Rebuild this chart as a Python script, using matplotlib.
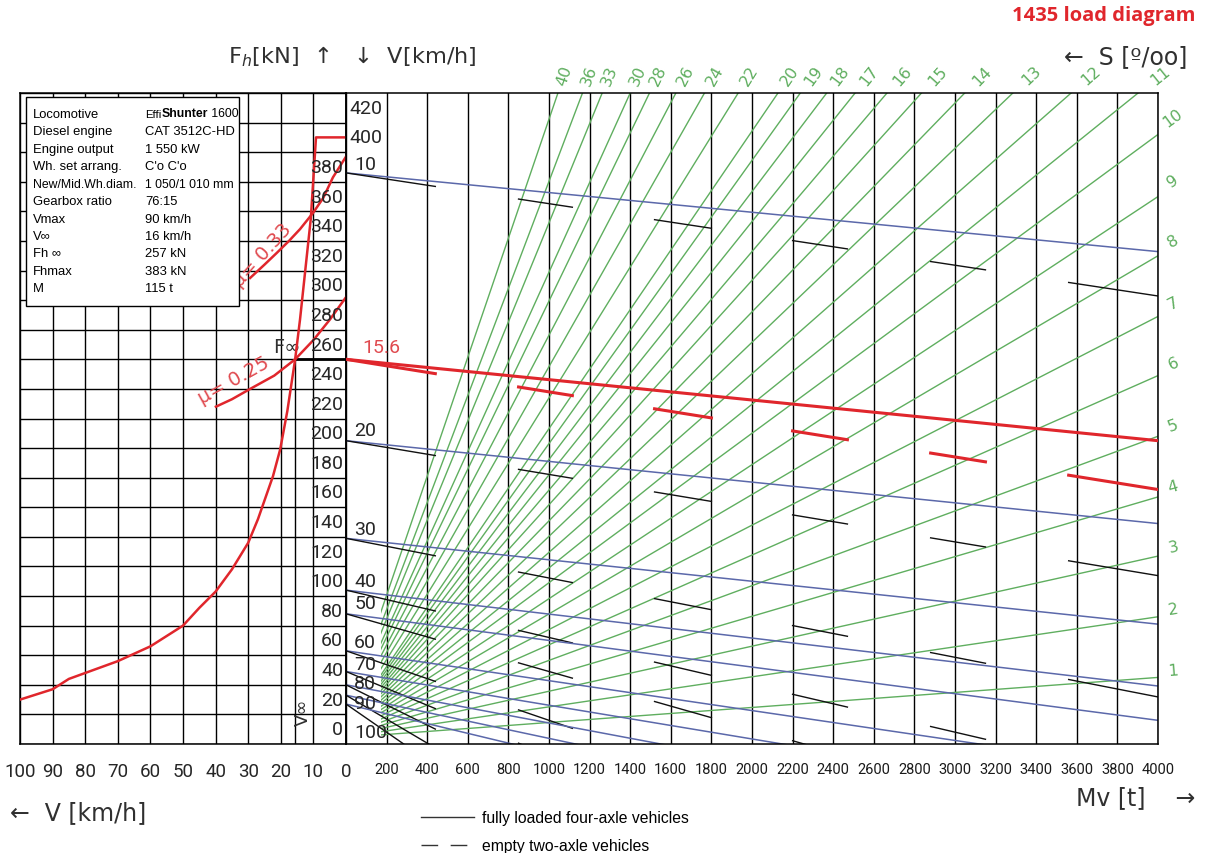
import matplotlib.pyplot as plt
import numpy as np
from matplotlib.lines import Line2D
from matplotlib.patches import Rectangle

# ---- values ----
# locomotive tractive effort Fh(V) [km/h, kN]
te_v = [100, 90, 85, 80, 70, 60, 50, 45, 40, 35, 30, 27, 22.4, 20.2, 18, 15.6, 14.1, 12.5, 10.8, 9.2, 0]
te_f = [30, 37, 44, 48, 56, 66, 80, 92, 103, 118, 136, 152, 181, 199, 225, 260, 287, 320, 355, 410, 410]

# adhesion limits
mu33_v = [29.4, 25, 21.2, 17.5, 14.1, 10.1, 7, 4, 0]
mu33_f = [315, 324, 332, 340, 348, 359, 369, 383, 397]
mu25_v = [39.9, 35, 29.4, 22, 15.6, 10, 4.9, 0]
mu25_f = [228, 233, 240, 249, 260, 273, 287, 302]

v_inf = 15.6
f_inf = 260

# train lines: force at Mv = 0 and drop per 1000 t
speeds = [10, 20, 30, 40, 50, 60, 70, 80, 90, 100]
start_f = [386, 205, 139, 104, 88, 63, 49, 40, 33, 27]
loaded_drop = [13.3, 14.0, 14.5, 16.2, 18.0, 20.2, 22.8, 25.8, 29.2, 33.0]
empty_drop = [20.8, 22.8, 26.8, 32.0, 39.0, 47.0, 57.0, 68.0, 81.0, 95.0]
speed_label_f = [392, 212, 145, 110, 95, 69, 54, 41, 28, 8]
inf_loaded_drop = 13.75
inf_empty_drop = 22.0

# dashes of the "empty two-axle" lines [t]
dash_from = [0, 850, 1520, 2200, 2880, 3560]
dash_to = [440, 1115, 1800, 2470, 3150, 4000]

# gradient lines S [o/oo]
grades_steep = [40, 36, 33, 30, 28, 26, 24, 22, 20, 19, 18, 17, 16, 15, 14, 13, 12, 11]
steep_top_mv = [1044, 1165, 1262, 1400, 1495, 1625, 1766, 1932, 2128, 2238, 2368, 2508, 2665, 2835, 3048, 3285, 3572, 3902]
grades_flat = [10, 9, 8, 7, 6, 5, 4, 3, 2, 1]
flat_end_f = [412, 370, 330, 289, 249, 208, 167, 127, 86, 45]
pivot_mv, pivot_f = -40, 4
green_from_mv = 170

info = [("Locomotive", None), ("Diesel engine", "CAT 3512C-HD"), ("Engine output", "1 550 kW"),
        ("Wh. set arrang.", "C'o C'o"), ("New/Mid.Wh.diam.", "1 050/1 010 mm"),
        ("Gearbox ratio", "76:15"), ("Vmax", "90 km/h"), ("V\u221e", "16 km/h"),
        ("Fh \u221e", "257 kN"), ("Fhmax", "383 kN"), ("M", "115 t")]

RED = '#e0262c'
GREEN = '#5fae5f'
BLUE = '#5b68aa'
STEN = dict(family=['Roboto', 'DejaVu Sans'], color='#262626')
HEAD = dict(family='DejaVu Sans', color='#303030')

fig = plt.figure(figsize=(12.06, 8.54), dpi=100)
axL = fig.add_axes([20 / 1206, 109 / 854, 326 / 1206, 651 / 854])
axR = fig.add_axes([346 / 1206, 109 / 854, 812 / 1206, 651 / 854])

for ax in (axL, axR):
    ax.set_ylim(0, 440)
    ax.tick_params(length=0, pad=13)
    for sp in ax.spines.values():
        sp.set_linewidth(1.1)
axL.set_xlim(100, 0)
axR.set_xlim(0, 4000)

# left grid
axL.set_xticks(np.arange(0, 101, 10))
axL.set_xticklabels([str(v) for v in range(0, 101, 10)], fontsize=13.5, **STEN)
axL.set_yticks(np.arange(0, 441, 20))
axL.set_yticklabels([])
axL.grid(True, color='black', lw=1.0, zorder=0)
axL.set_axisbelow(True)

# right grid (vertical only)
axR.set_xticks(np.arange(0, 4001, 200))
axR.set_xticklabels([''] + [str(m) for m in range(200, 4001, 200)], fontsize=10.5,
                    family=['Roboto', 'DejaVu Sans'], color='#1a1a1a')
axR.set_yticks([])
axR.grid(True, axis='x', color='black', lw=1.0, zorder=0)
axR.set_axisbelow(True)

# F labels
for f in range(0, 400, 20):
    axL.text(0.9, f + 10, str(f), ha='right', va='center', fontsize=14, zorder=5, **STEN)
for f in (400, 420):
    axR.text(15, f + 10, str(f), ha='left', va='center', fontsize=14, zorder=5, **STEN)

# tractive effort + adhesion curves
axL.plot(te_v, te_f, color=RED, lw=1.8, zorder=4)
axL.plot(mu33_v, mu33_f, color=RED, lw=1.8, zorder=4)
axL.plot(mu25_v, mu25_f, color=RED, lw=1.8, zorder=4)
axL.plot([v_inf, v_inf], [0, f_inf], color='black', lw=1.0, zorder=3)
axL.plot([v_inf, 0], [f_inf, f_inf], color='black', lw=2.0, zorder=3)
axL.text(v_inf + 2.5, f_inf + 2, 'F\u221e', ha='center', va='bottom', fontsize=14, **HEAD)
axL.text(13.2, 22, 'V\u221e', rotation=90, ha='center', va='center', fontsize=13, **HEAD)
axL.text(25.8, 331, '\u03bc= 0.33', rotation=48, ha='center', va='center', fontsize=14,
         color='#e04a4f', family='DejaVu Sans')
axL.text(34.4, 246, '\u03bc= 0.25', rotation=29, ha='center', va='center', fontsize=14,
         color='#e04a4f', family='DejaVu Sans')

# info box
axL.add_patch(Rectangle((0.018, 0.673), 0.654, 0.321, transform=axL.transAxes,
                        facecolor='white', edgecolor='black', lw=1.0, zorder=6))
for i, (k, v) in enumerate(info):
    y = 0.968 - i * 0.0268
    axL.text(0.040, y, k, transform=axL.transAxes, fontsize=9.4 if i != 4 else 8.8,
             va='center', family='Liberation Sans', zorder=7)
    if v is not None:
        axL.text(0.383, y, v, transform=axL.transAxes, fontsize=9.4 if i != 4 else 8.8,
                 va='center', family='Liberation Sans', zorder=7)
t1 = axL.text(0.383, 0.968, 'Effi', transform=axL.transAxes, fontsize=8.2, va='center',
              family='Liberation Sans', zorder=7)
t2 = axL.annotate('Shunter', xy=(1, 0), xycoords=t1, va='bottom', fontsize=8.8,
                  fontweight='bold', family='Liberation Sans', zorder=7)
axL.annotate(' 1600', xy=(1, 0), xycoords=t2, va='bottom', fontsize=8.8,
             family='Liberation Sans', zorder=7)

# gradient fan
clip = Rectangle((green_from_mv, 0), 4000 - green_from_mv, 440, transform=axR.transData)


def label_angle(x0, y0, x1, y1):
    p0 = axR.transData.transform((x0, y0))
    p1 = axR.transData.transform((x1, y1))
    return np.degrees(np.arctan2(p1[1] - p0[1], p1[0] - p0[0]))


for s, mv in zip(grades_steep, steep_top_mv):
    ln, = axR.plot([pivot_mv, mv], [pivot_f, 440], color=GREEN, lw=1.0, zorder=1)
    ln.set_clip_path(clip)
    k = (440 - pivot_f) / (mv - pivot_mv)
    ang = label_angle(pivot_mv, pivot_f, mv, 440)
    t = axR.text(mv + 12 / k, 452, str(s), rotation=ang, rotation_mode='anchor',
                 ha='center', va='center', fontsize=11.5, color=GREEN, family='DejaVu Sans')
    t.set_clip_on(False)

for s, f in zip(grades_flat, flat_end_f):
    ln, = axR.plot([pivot_mv, 4000], [pivot_f, f], color=GREEN, lw=1.0, zorder=1)
    ln.set_clip_path(clip)
    k = (f - pivot_f) / (4000 - pivot_mv)
    ang = label_angle(pivot_mv, pivot_f, 4000, f)
    t = axR.text(4075, f + 75 * k + 4, str(s), rotation=ang, rotation_mode='anchor',
                 ha='center', va='center', fontsize=11.5, color=GREEN, family='DejaVu Sans')
    t.set_clip_on(False)

# train lines
mv_line = np.array([0, 4000])
for v, f0, dl, de, fl in zip(speeds, start_f, loaded_drop, empty_drop, speed_label_f):
    axR.plot(mv_line, f0 - dl * mv_line / 1000, color=BLUE, lw=1.1, zorder=2)
    for a, b in zip(dash_from, dash_to):
        seg = np.array([a, b])
        axR.plot(seg, f0 - de * seg / 1000, color='#111111', lw=1.0, zorder=2)
    axR.text(40, fl, str(v), ha='left', va='center', fontsize=14, zorder=5, **STEN)

axR.plot(mv_line, f_inf - inf_loaded_drop * mv_line / 1000, color=RED, lw=2.2, zorder=3)
for a, b in zip(dash_from, dash_to):
    seg = np.array([a, b])
    axR.plot(seg, f_inf - inf_empty_drop * seg / 1000, color=RED, lw=2.2, zorder=3)
axR.text(80, f_inf + 8, '15.6', ha='left', va='center', fontsize=14,
         color='#e04a4f', family=['Roboto', 'DejaVu Sans'])

# titles and annotations
fig.text(0.991, 0.981, '1435 load diagram', ha='right', va='center', fontsize=14.5,
         fontweight='bold', color=RED, family=['Open Sans', 'DejaVu Sans'])
fig.text(228 / 1206, 1 - 57 / 854, 'F$_h$[kN]  \u2191   \u2193  V[km/h]', ha='left', va='center',
         fontsize=16.2, **HEAD)
fig.text(1187 / 1206, 1 - 57 / 854, '\u2190  S [\u00ba/oo]', ha='right', va='center',
         fontsize=17, **HEAD)
fig.text(10 / 1206, 1 - 813 / 854, '\u2190  V [km/h]', ha='left', va='center', fontsize=17, **HEAD)
fig.text(1195 / 1206, 1 - 798 / 854, 'Mv [t]    \u2192', ha='right', va='center', fontsize=17, **HEAD)

handles = [Line2D([], [], color='#333333', lw=1.0),
           Line2D([], [], color='#333333', lw=1.0, dashes=(12, 9))]
fig.legend(handles, ['fully loaded four-axle vehicles', 'empty two-axle vehicles'],
           loc='upper left', bbox_to_anchor=(407 / 1206, 1 - 797 / 854), frameon=False,
           handlelength=3.4, handletextpad=0.45, labelspacing=0.85,
           prop={'family': 'Liberation Sans', 'size': 11.3})

fig.savefig('out.png', dpi=100)
